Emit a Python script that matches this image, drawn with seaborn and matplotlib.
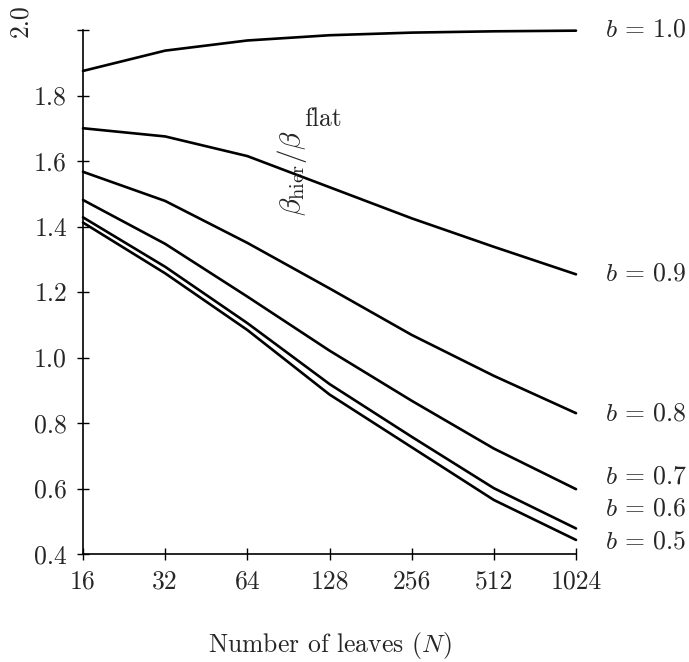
import numpy as np
import pandas as pd
import matplotlib
matplotlib.use("Agg")
import matplotlib.pyplot as plt
import seaborn as sns

# ---- data ----
leaves = [16, 32, 64, 128, 256, 512, 1024]
b_values = ["1.0", "0.9", "0.8", "0.7", "0.6", "0.5"]
ratio_b10 = [1.875, 1.937, 1.968, 1.984, 1.992, 1.996, 1.998]
ratio_b09 = [1.700, 1.675, 1.615, 1.520, 1.425, 1.338, 1.254]
ratio_b08 = [1.567, 1.478, 1.350, 1.211, 1.069, 0.944, 0.830]
ratio_b07 = [1.481, 1.347, 1.186, 1.021, 0.868, 0.722, 0.598]
ratio_b06 = [1.428, 1.277, 1.105, 0.919, 0.758, 0.601, 0.478]
ratio_b05 = [1.412, 1.257, 1.084, 0.887, 0.726, 0.565, 0.443]
label_y = [2.0, 1.255, 0.830, 0.635, 0.537, 0.439]
x_ticks = [16, 32, 64, 128, 256, 512, 1024]
y_ticks = [0.4, 0.6, 0.8, 1.0, 1.2, 1.4, 1.6, 1.8, 2.0]
y_ticklabels = ["0.4", "0.6", "0.8", "1.0", "1.2", "1.4", "1.6", "1.8", ""]

series = [ratio_b10, ratio_b09, ratio_b08, ratio_b07, ratio_b06, ratio_b05]
df = pd.DataFrame({
    "N": leaves * len(b_values),
    "ratio": sum(series, []),
    "b": sum([[b] * len(leaves) for b in b_values], []),
})

sns.set_style("ticks")
plt.rcParams["font.family"] = ["cmr10"]
plt.rcParams["mathtext.fontset"] = "cm"
plt.rcParams["axes.formatter.use_mathtext"] = True

FS = 18.5
fig = plt.figure(figsize=(6.89, 6.62), dpi=100)
ax = fig.add_axes([83 / 689, 1 - 554 / 662, (576 - 83) / 689, (554 - 30) / 662])

sns.lineplot(data=df, x="N", y="ratio", hue="b", hue_order=b_values,
             palette=["black"] * len(b_values), linewidth=1.9,
             legend=False, ax=ax, clip_on=False)

ax.set_xscale("log", base=2)
ax.set_xlim(16, 1024)
ax.set_ylim(0.4, 2.0)
ax.set_xticks(x_ticks)
ax.set_xticklabels([str(t) for t in x_ticks], fontsize=FS)
ax.minorticks_off()
ax.set_yticks(y_ticks)
ax.set_yticklabels(y_ticklabels, fontsize=FS)
ax.tick_params(axis="both", which="major", bottom=True, left=True,
               top=False, right=False, direction="inout", length=9,
               width=1.0, color="black", pad=7)
for s in ["top", "right"]:
    ax.spines[s].set_visible(False)
for s in ["left", "bottom"]:
    ax.spines[s].set_linewidth(1.2)
    ax.spines[s].set_color("black")

ax.set_xlabel(r"Number of leaves $(N)$", fontsize=FS, labelpad=26)
ax.set_ylabel("")

for b, ly in zip(b_values, label_y):
    ax.annotate(rf"$b\,=\,{b}$", xy=(1024, ly), xycoords="data",
                xytext=(29, 0), textcoords="offset pixels",
                fontsize=FS, va="center", ha="left", annotation_clip=False)

# odd y-axis annotations as in the reference
ax.text(0.424, 0.727, r"$\beta_{\rm hier}/\beta$", rotation=90,
        transform=ax.transAxes, fontsize=21, ha="center", va="center")
ax.text(0.487, 0.830, "flat", transform=ax.transAxes, fontsize=FS,
        ha="center", va="center")
fig.text(20 / 689, 1 - 21 / 662, "2.0", rotation=90, fontsize=FS,
         ha="center", va="center")

fig.savefig("out.png", dpi=100)
